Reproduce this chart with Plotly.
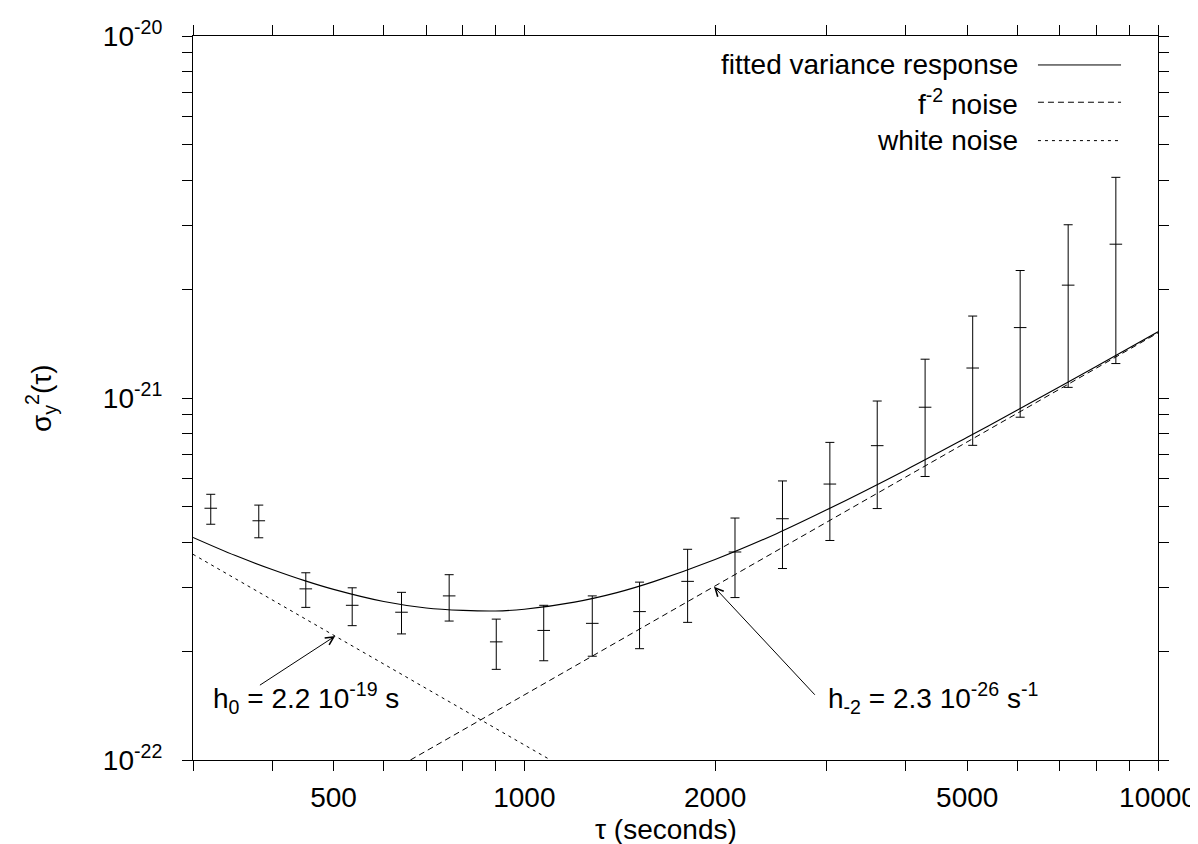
import plotly.graph_objects as go
import numpy as np

tau = [320, 381, 452, 535, 640, 761, 903, 1073, 1280, 1520,
       1810, 2150, 2555, 3035, 3605, 4290, 5100, 6060, 7215, 8580]
sigma2 = [4.96e-22, 4.58e-22, 2.97e-22, 2.675e-22, 2.56e-22, 2.84e-22, 2.12e-22, 2.28e-22, 2.385e-22, 2.57e-22,
          3.115e-22, 3.755e-22, 4.64e-22, 5.785e-22, 7.385e-22, 9.43e-22, 1.21e-21, 1.565e-21, 2.05e-21, 2.66e-21]
sigma2_hi = [5.42e-22, 5.06e-22, 3.29e-22, 2.99e-22, 2.905e-22, 3.25e-22, 2.45e-22, 2.675e-22, 2.84e-22, 3.10e-22,
             3.82e-22, 4.66e-22, 5.90e-22, 7.54e-22, 9.81e-22, 1.28e-21, 1.684e-21, 2.25e-21, 3.01e-21, 4.07e-21]
sigma2_lo = [4.48e-22, 4.11e-22, 2.64e-22, 2.35e-22, 2.23e-22, 2.42e-22, 1.78e-22, 1.88e-22, 1.935e-22, 2.03e-22,
             2.40e-22, 2.81e-22, 3.38e-22, 4.04e-22, 4.95e-22, 6.07e-22, 7.40e-22, 8.85e-22, 1.07e-21, 1.245e-21]

# fitted variance response curve
fit_tau = [300, 350, 400, 450, 500, 600, 700, 800, 900, 1000, 1200, 1400, 1600,
           2000, 2500, 3000, 4000, 5000, 6000, 8000, 10000]
fit_val = [4.12e-22, 3.67e-22, 3.36e-22, 3.13e-22, 2.96e-22, 2.74e-22, 2.63e-22, 2.59e-22, 2.58e-22,
           2.61e-22, 2.73e-22, 2.90e-22, 3.11e-22, 3.58e-22, 4.22e-22, 4.91e-22, 6.33e-22, 7.79e-22,
           9.26e-22, 1.224e-21, 1.524e-21]

# f^-2 noise (straight line) and white noise (straight line) end points
rw_tau = [661, 10000]
rw_val = [1.0e-22, 1.513e-21]
wn_tau = [300, 1100]
wn_val = [3.70e-22, 1.0e-22]

x_tickvals = [300, 400, 500, 600, 700, 800, 900, 1000, 2000, 3000, 4000, 5000, 6000, 7000, 8000, 9000, 10000]
x_ticktext = ["", "", "500", "", "", "", "", "1000", "2000", "", "", "5000", "", "", "", "", "10000"]
y_tickvals = [1e-22, 2e-22, 3e-22, 4e-22, 5e-22, 6e-22, 7e-22, 8e-22, 9e-22,
              1e-21, 2e-21, 3e-21, 4e-21, 5e-21, 6e-21, 7e-21, 8e-21, 9e-21, 1e-20]
y_ticktext = ["10<sup>-22</sup>"] + [""] * 8 + ["10<sup>-21</sup>"] + [""] * 8 + ["10<sup>-20</sup>"]

legend_labels = ["fitted variance response", "f<sup>-2</sup> noise", "white noise"]

FONT = "Liberation Sans, Arial, Helvetica, sans-serif"
FS = 28

err_plus = [h - c for h, c in zip(sigma2_hi, sigma2)]
err_minus = [c - l for c, l in zip(sigma2, sigma2_lo)]

fig = go.Figure()

fig.add_trace(go.Scatter(
    x=tau, y=sigma2, mode="markers",
    marker=dict(symbol="line-ew", size=9, color="black", line=dict(color="black", width=1)),
    error_y=dict(type="data", symmetric=False, array=err_plus, arrayminus=err_minus,
                 color="black", thickness=1, width=4.5),
    showlegend=False, hoverinfo="x+y"))

fig.add_trace(go.Scatter(x=fit_tau, y=fit_val, mode="lines", line=dict(color="black", width=1.1, shape="spline"),
                         showlegend=False))
fig.add_trace(go.Scatter(x=rw_tau, y=rw_val, mode="lines", line=dict(color="black", width=1, dash="6px,4px"),
                         showlegend=False))
fig.add_trace(go.Scatter(x=wn_tau, y=wn_val, mode="lines", line=dict(color="black", width=1, dash="3px,4px"),
                         showlegend=False))

# manual gnuplot-style legend (text right, sample line on the right)
leg_y = [0.960, 0.9085, 0.8555]
leg_dash = ["solid", "6px,4px", "3px,4px"]
for lab, yy, dd in zip(legend_labels, leg_y, leg_dash):
    fig.add_annotation(x=0.857, y=yy, xref="paper", yref="paper", text=lab, showarrow=False,
                       xanchor="right", yanchor="middle", font=dict(family=FONT, size=FS, color="black"))
    fig.add_shape(type="line", xref="paper", yref="paper", x0=0.8756, x1=0.9617, y0=yy, y1=yy,
                  line=dict(color="black", width=1, dash=dd))

# annotations with arrows
fig.add_annotation(x=np.log10(503), y=np.log10(2.2e-22), ax=np.log10(380.5), ay=np.log10(1.6e-22),
                   xref="x", yref="y", axref="x", ayref="y", text="", showarrow=True,
                   arrowhead=5, arrowsize=1.6, arrowwidth=1, arrowcolor="black")
fig.add_annotation(x=np.log10(1992), y=np.log10(3.01e-22), ax=np.log10(2888), ay=np.log10(1.5e-22),
                   xref="x", yref="y", axref="x", ayref="y", text="", showarrow=True,
                   arrowhead=5, arrowsize=1.6, arrowwidth=1, arrowcolor="black")
fig.add_annotation(x=0.0187, y=0.0852, xref="paper", yref="paper", showarrow=False,
                   text="h<sub>0</sub> = 2.2 10<sup>-19</sup> s", xanchor="left", yanchor="middle",
                   font=dict(family=FONT, size=FS, color="black"))
fig.add_annotation(x=0.656, y=0.0852, xref="paper", yref="paper", showarrow=False,
                   text="h<sub>-2</sub> = 2.3 10<sup>-26</sup> s<sup>-1</sup>", xanchor="left", yanchor="middle",
                   font=dict(family=FONT, size=FS, color="black"))

# axis titles
fig.add_annotation(x=0.49, y=-0.0965, xref="paper", yref="paper", showarrow=False,
                   text="τ (seconds)", xanchor="center", yanchor="middle", borderpad=0,
                   font=dict(family=FONT, size=FS, color="black"))
fig.add_annotation(x=-0.1575, y=0.50, xref="paper", yref="paper", showarrow=False,
                   text="σ<sub>y</sub><sup>2</sup>(τ)", textangle=-90, xanchor="center", yanchor="middle",
                   font=dict(family=FONT, size=FS, color="black"))

axis_common = dict(showline=True, linecolor="black", linewidth=1.2, mirror="allticks",
                   ticks="outside", ticklen=10, tickwidth=1.2, tickcolor="black",
                   showgrid=False, zeroline=False,
                   tickfont=dict(family=FONT, size=FS, color="black"))

fig.update_xaxes(type="log", range=[np.log10(300), 4], tickmode="array",
                 tickvals=x_tickvals, ticktext=x_ticktext, ticklabelstandoff=2, **axis_common)
fig.update_yaxes(type="log", range=[-22, -20], tickmode="array",
                 tickvals=y_tickvals, ticktext=y_ticktext, ticklabelstandoff=14, **axis_common)

fig.update_layout(width=1198, height=844, margin=dict(l=185, r=48, t=28, b=92, autoexpand=False),
                  plot_bgcolor="white", paper_bgcolor="white", showlegend=False,
                  font=dict(family=FONT, size=FS, color="black"))

fig.write_html("out.html")
